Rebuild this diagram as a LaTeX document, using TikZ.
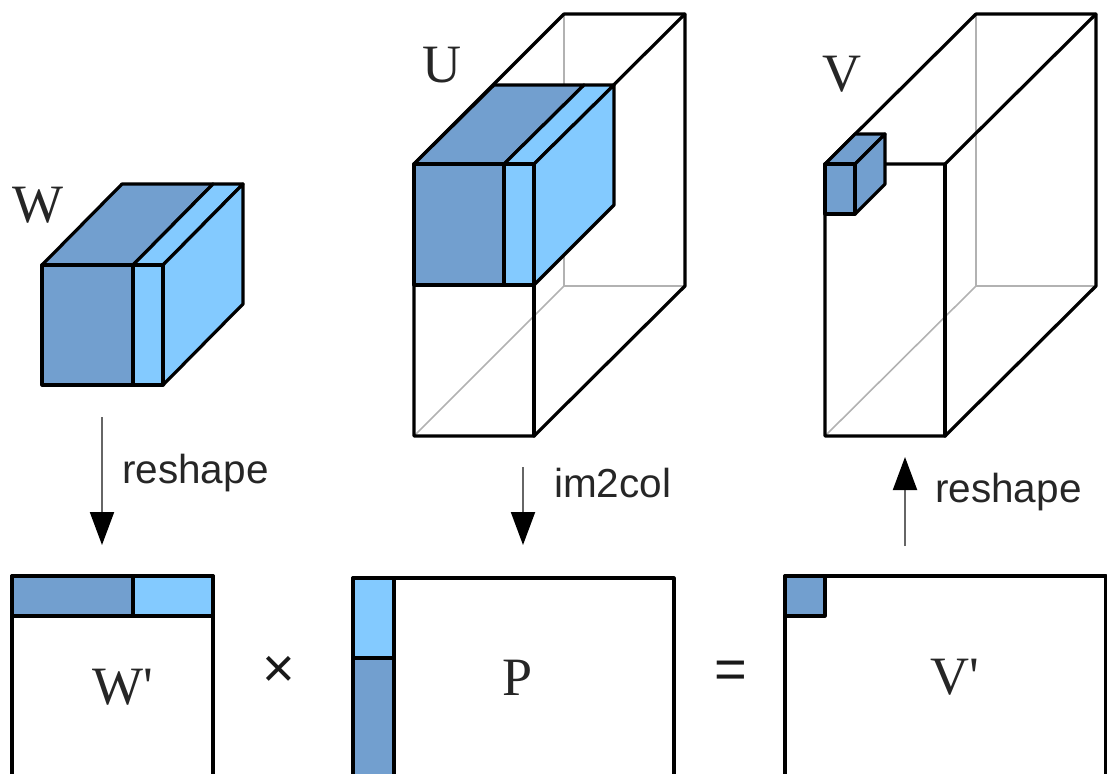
\documentclass[tikz,border=0pt]{standalone}
\usepackage{fontspec}
\setmainfont{Liberation Serif}
\newfontfamily\symserif{Liberation Serif}
\newfontfamily\lblsans{Liberation Sans}
\definecolor{dk}{HTML}{729FCF}
\definecolor{lt}{HTML}{83CAFF}
\usetikzlibrary{arrows.meta}
\tikzset{
  edge/.style={draw=black,line width=3.2pt,line join=round,line cap=round},
  ghost/.style={draw=black!30,line width=1.6pt},
  dkface/.style={fill=dk,edge},
  ltface/.style={fill=lt,edge},
  sym/.style={font=\symserif\fontsize{54}{54}\selectfont,inner sep=0pt,text=black!85},
  oper/.style={font=\lblsans\fontsize{56}{56}\selectfont,inner sep=0pt,text=black!90},
  lbl/.style={font=\lblsans\fontsize{40.5}{40.5}\selectfont,inner sep=0pt,text=black!85,anchor=base west},
  flow/.style={draw=black!60,line width=2pt,-{Triangle[length=33pt,width=24pt,color=black]}}
}
\begin{document}
\begin{tikzpicture}[x=1pt,y=-1pt]
\useasboundingbox (0,0) rectangle (1107,773);
\clip (0,0) rectangle (1107,773);
% W cube
\path[dkface] (42,265) -- (122,184) -- (213,184) -- (133,265) -- cycle;
\path[ltface] (133,265) -- (213,184) -- (243,184) -- (163,265) -- cycle;
\path[ltface] (163,265) -- (243,184) -- (243,304) -- (163,385) -- cycle;
\path[ltface] (133,265) rectangle (163,385);
\path[dkface] (42,265) rectangle (133,385);
% U prism
\draw[ghost] (564,14) -- (564,286) -- (685,286);
\draw[ghost] (564,286) -- (414,436);
\path[edge] (414,164) -- (564,14) -- (685,14) -- (685,286) -- (534,436) -- (414,436) -- cycle;
\path[edge] (534,164) -- (685,14);
\path[edge] (534,164) -- (534,436);
\path[dkface] (414,164) -- (494,85) -- (584,85) -- (504,164) -- cycle;
\path[ltface] (504,164) -- (584,85) -- (614,85) -- (534,164) -- cycle;
\path[ltface] (534,164) -- (614,85) -- (614,205) -- (534,285) -- cycle;
\path[ltface] (504,164) rectangle (534,285);
\path[dkface] (414,164) rectangle (504,285);
% V prism
\draw[ghost] (976,14) -- (976,286) -- (1096,286);
\draw[ghost] (976,286) -- (825,436);
\path[edge] (825,164) -- (976,14) -- (1096,14) -- (1096,286) -- (945,436) -- (825,436) -- cycle;
\path[edge] (825,164) -- (945,164) -- (1096,14);
\path[edge] (945,164) -- (945,436);
\path[dkface] (825,164) -- (855,134) -- (885,134) -- (855,164) -- cycle;
\path[dkface] (855,164) -- (885,134) -- (885,184) -- (855,214) -- cycle;
\path[dkface] (825,164) rectangle (855,214);
% W' matrix
\path[edge] (12,790) -- (12,576) -- (213,576) -- (213,790);
\path[dkface] (12,576) rectangle (133,616);
\path[ltface] (133,576) rectangle (213,616);
% P matrix
\path[edge] (353,790) -- (353,578) -- (674,578) -- (674,790);
\path[ltface] (353,578) rectangle (394,658);
\path[dkface] (353,658) rectangle (394,790);
% V' matrix
\path[edge] (785,790) -- (785,576) -- (1106,576) -- (1106,790);
\path[dkface] (785,576) rectangle (825,616);
% symbols
\node[sym] (lW) at (38,205) {W};
\node[sym] (lU) at (442,65) {U};
\node[sym] (lV) at (842,74) {V};
\node[sym] (lWp) at (123,687) {W'};
\node[sym] (lP) at (518,678) {P};
\node[sym] (lVp) at (955,677) {V'};
\node[oper] (times) at (279,672) {×};
\node[oper] (eq) at (731,675) {=};
% arrows
\coordinate (a1s) at (102,417); \coordinate (a1e) at (102,545);
\coordinate (a2s) at (523,467); \coordinate (a2e) at (523,545);
\coordinate (a3s) at (905,546); \coordinate (a3e) at (905,457);
\draw[flow] (a1s) -- (a1e);
\draw[flow] (a2s) -- (a2e);
\draw[flow] (a3s) -- (a3e);
\node[lbl] (r1) at (122,483) {reshape};
\node[lbl] (r2) at (554,497) {im2col};
\node[lbl] (r3) at (935,502) {reshape};
\end{tikzpicture}
\end{document}
